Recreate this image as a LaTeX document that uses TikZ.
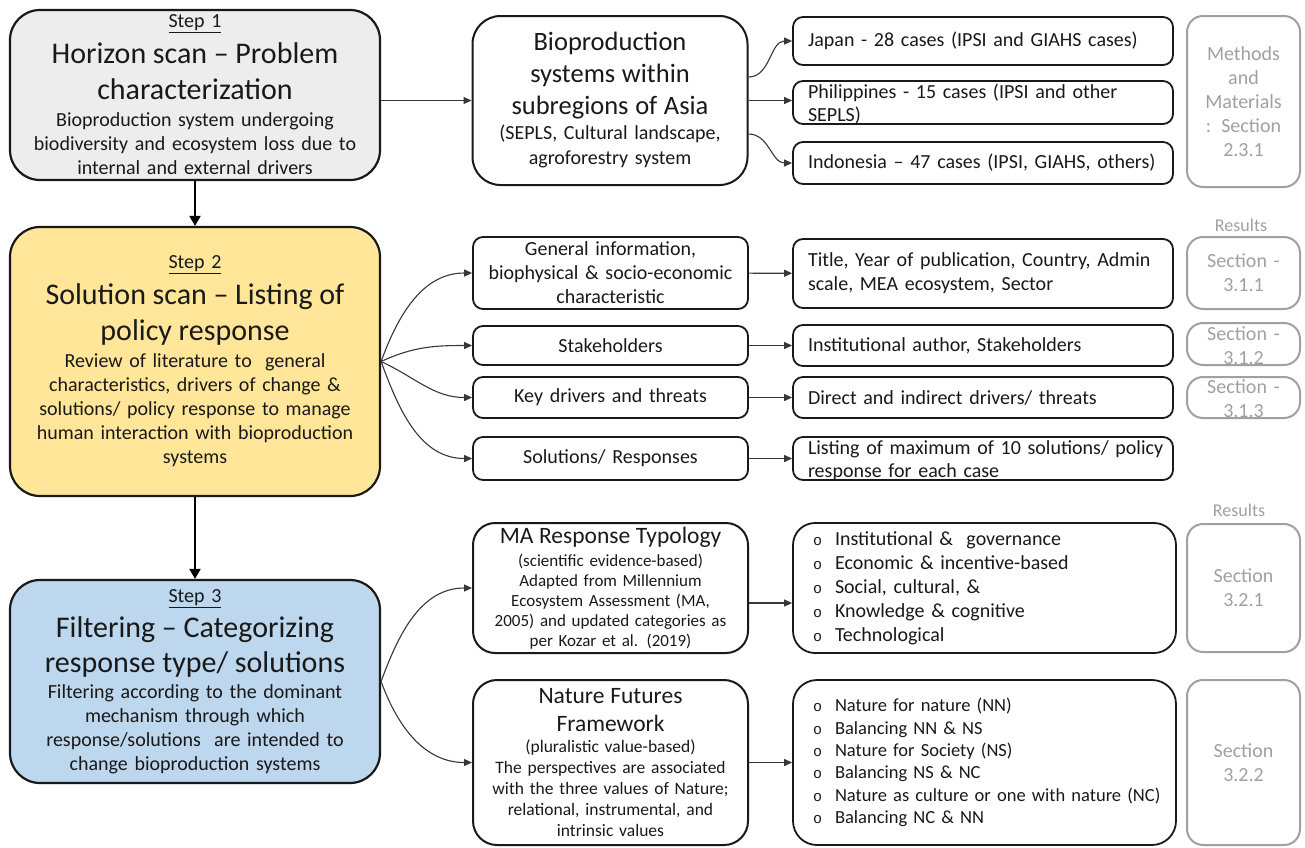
\documentclass[tikz,border=0pt]{standalone}
\usepackage{fontspec}
\setmainfont{Carlito}
\newfontfamily\bulletfont{Liberation Mono}
\usepackage{tikz}
\usetikzlibrary{arrows.meta}

\definecolor{stepgray}{RGB}{237,237,237}
\definecolor{stepgold}{RGB}{255,230,153}
\definecolor{stepblue}{RGB}{189,215,238}
\definecolor{secgray}{RGB}{160,160,160}
\definecolor{inkgray}{RGB}{25,25,25}
\definecolor{linkgray}{RGB}{55,55,55}

\newcommand{\bul}{{\fontsize{15}{15}\bulletfont o}\hspace{13pt}}
\newcommand{\spill}[2]{\raisebox{-0.42em}[0pt][0pt]{\begin{tabular}{@{}#1@{}}#2\end{tabular}}}

\begin{document}
\begin{tikzpicture}[
        x=1pt, y=-1pt,
        >={Triangle[length=8pt, width=7pt]},
        stepbox/.style={draw=inkgray, line width=2.2pt, rounded corners=30pt, minimum width=370pt,
            text width=360pt, align=center, inner sep=0pt, text=inkgray, font=\fontsize{20}{24}\selectfont},
        bigbox/.style={draw=inkgray, line width=2pt, rounded corners=28pt, minimum width=275pt,
            text width=262pt, align=center, inner sep=0pt, text=inkgray},
        infobox/.style={draw=inkgray, line width=1.8pt, rounded corners=10pt, minimum width=275pt,
            text width=265pt, align=center, inner sep=0pt, text=inkgray, font=\fontsize{20}{24}\selectfont},
        detailbox/.style={draw=inkgray, line width=1.8pt, rounded corners=10pt, minimum width=380pt,
            text width=350pt, align=left, inner sep=0pt, text=inkgray, font=\fontsize{20}{23}\selectfont},
        listbox/.style={draw=inkgray, line width=1.8pt, rounded corners=22pt, minimum width=383pt,
            text width=343pt, align=left, inner sep=0pt, text=inkgray},
        secbox/.style={draw=secgray, text=secgray, line width=2pt, rounded corners=16pt, minimum width=113pt,
            text width=105pt, align=center, inner sep=0pt, font=\fontsize{20}{24}\selectfont},
        reslabel/.style={text=secgray, inner sep=0pt, font=\fontsize{18}{20}\selectfont},
        link/.style={->, draw=linkgray, line width=1.1pt},
        flow/.style={-{Triangle[length=10pt, width=11pt]}, draw=black, line width=2pt}
    ]
        \useasboundingbox (0,0) rectangle (1305,847);

        % steps
        \node[stepbox, fill=stepgray, minimum height=170pt] (scan) at (195,95) {%
            \underline{Step 1}\par
            {\fontsize{30}{36}\selectfont Horizon scan -- Problem\\ characterization\par}
            \vspace{3pt}Bioproduction system undergoing\\ biodiversity and ecosystem loss due to\\ internal and external drivers};
        \node[stepbox, fill=stepgold, minimum height=269pt] (solve) at (195,361.5) {%
            \underline{Step 2}\par
            {\fontsize{30}{36}\selectfont Solution scan -- Listing of\\ policy response\par}
            \vspace{3pt}Review of literature to\ \ general\\ characteristics, drivers of change \&\\ solutions/ policy response to manage\\ human interaction with bioproduction\\ systems};
        \node[stepbox, fill=stepblue, minimum height=203pt] (filter) at (195,681.5) {%
            \underline{Step 3}\par
            {\fontsize{30}{35}\selectfont Filtering -- Categorizing\\ response type/ solutions\par}
            \vspace{2pt}Filtering according to the dominant\\ mechanism through which\\ response/solutions\ \ are intended to\\ change bioproduction systems};

        \draw[flow] (scan) -- (solve);
        \draw[flow] (solve) -- (filter);

        % middle column
        \node[bigbox, minimum height=169pt, font=\fontsize{20}{25}\selectfont] (bio) at (610,100.5) {%
            {\fontsize{26.5}{32}\selectfont Bioproduction\\ systems within\\ subregions of Asia\par}
            (SEPLS, Cultural landscape,\\ agroforestry system};
        \node[infobox, minimum height=72pt] (info) at (610.5,273) {General information,\\ biophysical \& socio-economic\\ characteristic};
        \node[infobox, minimum height=39pt] (stake) at (610.5,345.5) {Stakeholders};
        \node[infobox, minimum height=41pt] (drivers) at (610.5,397.5) {Key drivers and threats};
        \node[infobox, minimum height=43pt] (answers) at (610.5,458.5) {Solutions/ Responses};
        \node[bigbox, minimum height=130pt, rounded corners=22pt, font=\fontsize{17}{20}\selectfont] (typology) at (610.5,588) {%
            {\fontsize{23.5}{26}\selectfont MA Response Typology\par}
            \vspace{3pt}(scientific evidence-based)\\ Adapted from Millennium\\ Ecosystem Assessment (MA,\\ 2005) and updated categories as\\ per Kozar et al. (2019)};
        \node[bigbox, minimum height=165pt, rounded corners=24pt, font=\fontsize{17.5}{21}\selectfont] (futures) at (610.5,762.5) {%
            {\fontsize{23.5}{28}\selectfont Nature Futures\\ Framework\par}
            (pluralistic value-based)\\ The perspectives are associated\\ with the three values of Nature;\\ relational, instrumental, and\\ intrinsic values};

        \draw[link] (scan.east |- bio.west) -- (bio.west);
        \draw[link] (solve.east) to[out=70, in=180] (info.west);
        \draw[link] (solve.east) to[out=25, in=180] (stake.west);
        \draw[link] (solve.east) to[out=-25, in=180] (drivers.west);
        \draw[link] (solve.east) to[out=-70, in=180] (answers.west);
        \draw[link] (filter.east) to[out=70, in=180] (typology.west);
        \draw[link] (filter.east) to[out=-70, in=180] (futures.west);

        % right column
        \node[detailbox, minimum height=48pt] (japan) at (983,41) {Japan - 28 cases (IPSI and GIAHS cases)};
        \node[detailbox, minimum height=43pt] (phil) at (983,102.5) {\spill{l}{Philippines - 15 cases (IPSI and other\\ SEPLS)}};
        \node[detailbox, minimum height=42pt] (indo) at (983,163) {Indonesia -- 47 cases (IPSI, GIAHS, others)};
        \node[detailbox, minimum height=69pt, font=\fontsize{20}{24}\selectfont] (fields) at (983,273.5) {Title, Year of publication, Country, Admin\\ scale, MEA ecosystem, Sector};
        \node[detailbox, minimum height=41pt] (authors) at (983,345.5) {Institutional author, Stakeholders};
        \node[detailbox, minimum height=41pt] (threats) at (983,397.5) {Direct and indirect drivers/ threats};
        \node[detailbox, minimum height=43pt] (listing) at (983,458.5) {\spill{l}{Listing of maximum of 10 solutions/ policy\\ response for each case}};
        \node[listbox, minimum height=130pt, font=\fontsize{20}{24}\selectfont] (types) at (984.5,588) {%
            \bul Institutional \&\ \ governance\\ \bul Economic \& incentive-based\\ \bul Social, cultural, \&\\ \bul Knowledge \& cognitive\\ \bul Technological};
        \node[listbox, minimum height=165pt, rounded corners=24pt, font=\fontsize{18.5}{22.4}\selectfont] (values) at (984.5,762.5) {%
            \bul Nature for nature (NN)\\ \bul Balancing NN \& NS\\ \bul Nature for Society (NS)\\ \bul Balancing NS \& NC\\ \mbox{\bul Nature as culture or one with nature (NC)}\\ \bul Balancing NC \& NN};

        \draw[link] ([yshift=23.5pt]bio.east) to[out=0, in=180] (japan.west);
        \draw[link] (bio.east) -- (bio.east -| phil.west);
        \draw[link] ([yshift=-33.5pt]bio.east) to[out=0, in=180] (indo.west);
        \draw[link] (info) -- (fields);
        \draw[link] (stake) -- (authors);
        \draw[link] (drivers) -- (threats);
        \draw[link] (answers) -- (listing);
        \draw[link] ([yshift=-15pt]typology.east) -- ([yshift=-15pt]types.west);
        \draw[link] (futures) -- (values);

        % sections
        \node[secbox, minimum height=171pt] (methods) at (1243.5,101.5) {Methods\\ and\\ Materials\\ : Section\\ 2.3.1};
        \node[reslabel] (results1) at (1241,225) {Results};
        \node[secbox, minimum height=72pt] (sec311) at (1243.5,273) {Section -\\ 3.1.1};
        \node[secbox, minimum height=42pt] (sec312) at (1243.5,344) {\spill{c}{Section -\\ 3.1.2}};
        \node[secbox, minimum height=41pt] (sec313) at (1243.5,397.5) {\spill{c}{Section -\\ 3.1.3}};
        \node[reslabel] (results2) at (1239,510) {Results};
        \node[secbox, minimum height=128pt] (sec321) at (1243.5,588) {Section\\ 3.2.1};
        \node[secbox, minimum height=165pt] (sec322) at (1243.5,762.5) {Section\\ 3.2.2};
    \end{tikzpicture}
\end{document}
